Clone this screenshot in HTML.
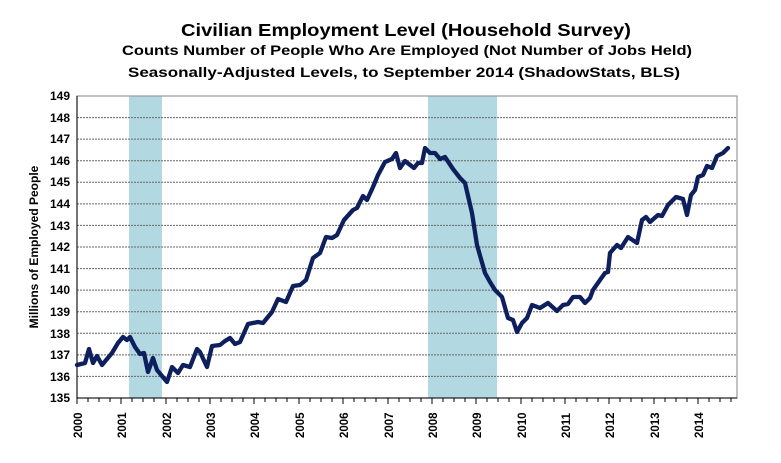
<!DOCTYPE html>
<html><head><meta charset="utf-8"><style>html,body{margin:0;padding:0;background:#fff}svg{display:block}</style></head><body>
<svg width="781" height="463" viewBox="0 0 781 463" xmlns="http://www.w3.org/2000/svg" font-family="Liberation Sans, Arial, sans-serif" font-weight="bold">
<rect width="781" height="463" fill="#fff"/>
<text x="406" y="36" text-anchor="middle" font-size="17.5" textLength="450" lengthAdjust="spacingAndGlyphs">Civilian Employment  Level (Household Survey)</text>
<text x="407" y="55" text-anchor="middle" font-size="14" textLength="570" lengthAdjust="spacingAndGlyphs">Counts Number of People Who Are Employed (Not Number of Jobs Held)</text>
<text x="404" y="77" text-anchor="middle" font-size="14" textLength="552" lengthAdjust="spacingAndGlyphs">Seasonally-Adjusted Levels, to September 2014 (ShadowStats, BLS)</text>
<rect x="129" y="96" width="33" height="302" fill="#b2d9e2"/>
<rect x="428" y="96" width="69" height="302" fill="#b2d9e2"/>
<g stroke="#666" stroke-width="1" stroke-dasharray="2,1">
<line x1="77" x2="737" y1="117.6" y2="117.6"/><line x1="77" x2="737" y1="139.1" y2="139.1"/><line x1="77" x2="737" y1="160.7" y2="160.7"/><line x1="77" x2="737" y1="182.3" y2="182.3"/><line x1="77" x2="737" y1="203.9" y2="203.9"/><line x1="77" x2="737" y1="225.4" y2="225.4"/><line x1="77" x2="737" y1="247" y2="247"/><line x1="77" x2="737" y1="268.6" y2="268.6"/><line x1="77" x2="737" y1="290.1" y2="290.1"/><line x1="77" x2="737" y1="311.7" y2="311.7"/><line x1="77" x2="737" y1="333.3" y2="333.3"/><line x1="77" x2="737" y1="354.9" y2="354.9"/><line x1="77" x2="737" y1="376.4" y2="376.4"/>
</g>
<rect x="77" y="96" width="660" height="302" fill="none" stroke="#999" stroke-width="1.2"/>
<line x1="77" y1="96" x2="77" y2="398" stroke="#000"/>
<line x1="77" y1="398" x2="737" y2="398" stroke="#000"/>
<g font-size="12" text-anchor="end">
<text x="70" y="100">149</text><text x="70" y="122">148</text><text x="70" y="143">147</text><text x="70" y="165">146</text><text x="70" y="186">145</text><text x="70" y="208">144</text><text x="70" y="230">143</text><text x="70" y="251">142</text><text x="70" y="273">141</text><text x="70" y="294">140</text><text x="70" y="316">139</text><text x="70" y="338">138</text><text x="70" y="359">137</text><text x="70" y="381">136</text><text x="70" y="402">135</text>
</g>
<text transform="translate(38,247) rotate(-90)" text-anchor="middle" font-size="12">Millions  of Employed People</text>
<polyline fill="none" stroke="#0d1f5c" stroke-width="4.3" stroke-linejoin="round" stroke-linecap="round" points="77,365 85,363 89,349 93,363 97,356 102,365 112,353 118,343 123,337 127,340 130,337 135,347 140,354 144,353 148,372 153,358 157,370 167,382 172,367 178,373 183,365 190,367 197,349 200,352 207,367 212,346 220,345 225,341 230,338 235,344 240,342 248,324 258,322 263,323 272,312 278,299 286,302 293,286 300,285 306,280 313,258 320,253 326,237 332,238 337,235 344,220 353,210 357,208 363,196 367,200 373,187 378,175 385,162 392,159 396,153 400,168 405,161 414,168 418,163 422,163 425,148 430,153 435,153 440,159 445,157 453,169 460,178 465,183 472,213 477,245 485,273 490,282 495,290 502,297 508,318 513,320 517,332 522,323 527,318 532,305 540,308 548,303 557,311 563,305 568,304 573,297 580,297 585,303 590,298 593,290 600,280 605,273 608,272 610,253 617,245 621,248 628,237 637,243 642,220 646,217 650,222 658,215 662,216 668,205 676,197 683,199 687,215 691,195 695,190 698,177 703,175 707,166 712,168 717,156 723,153 728,148"/>
<g stroke="#000">
<path d="M77,398v6M88,398v4M99,398v4M110,398v4M121,398v6M132,398v4M143,398v4M154,398v4M166,398v6M177,398v4M188,398v4M199,398v4M210,398v6M221,398v4M232,398v4M243,398v4M254,398v6M265,398v4M276,398v4M287,398v4M299,398v6M310,398v4M321,398v4M332,398v4M343,398v6M354,398v4M365,398v4M376,398v4M388,398v6M399,398v4M410,398v4M421,398v4M432,398v6M443,398v4M454,398v4M465,398v4M476,398v6M487,398v4M498,398v4M509,398v4M521,398v6M532,398v4M543,398v4M554,398v4M565,398v6M576,398v4M587,398v4M598,398v4M609,398v6M620,398v4M631,398v4M642,398v4M654,398v6M665,398v4M676,398v4M687,398v4M698,398v6M709,398v4M720,398v4M731,398v4"/>
</g>
<g font-size="11.5">
<text transform="translate(82,438) rotate(-90)">2000</text><text transform="translate(126,438) rotate(-90)">2001</text><text transform="translate(171,438) rotate(-90)">2002</text><text transform="translate(215,438) rotate(-90)">2003</text><text transform="translate(259,438) rotate(-90)">2004</text><text transform="translate(304,438) rotate(-90)">2005</text><text transform="translate(348,438) rotate(-90)">2006</text><text transform="translate(393,438) rotate(-90)">2007</text><text transform="translate(437,438) rotate(-90)">2008</text><text transform="translate(481,438) rotate(-90)">2009</text><text transform="translate(526,438) rotate(-90)">2010</text><text transform="translate(570,438) rotate(-90)">2011</text><text transform="translate(614,438) rotate(-90)">2012</text><text transform="translate(659,438) rotate(-90)">2013</text><text transform="translate(703,438) rotate(-90)">2014</text>
</g>
</svg>
</body></html>
